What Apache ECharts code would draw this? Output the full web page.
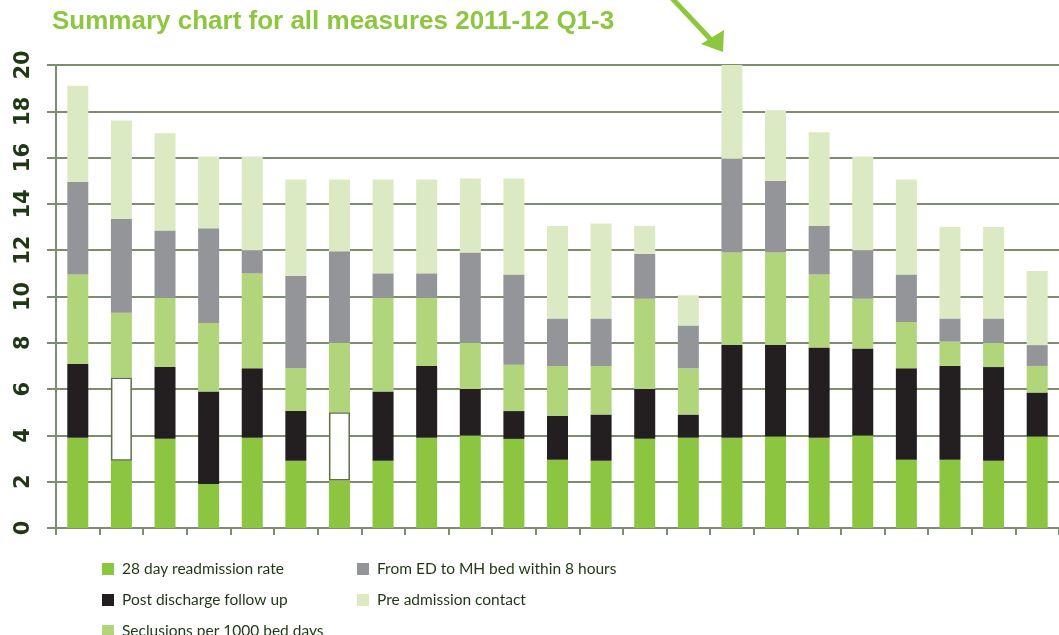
<!DOCTYPE html>
<html>
<head>
<meta charset="utf-8">
<script src="https://cdn.jsdelivr.net/npm/echarts@6/dist/echarts.min.js"></script>
<style>
html,body{margin:0;padding:0;background:#fff;}
#chart{width:1059px;height:635px;}
</style>
</head>
<body>
<div id="chart"></div>
<script>
// ---- data ----
const titleText = 'Summary chart for all measures 2011-12 Q1-3';
const categories = ['1','2','3','4','5','6','7','8','9','10','11','12','13','14','15','16','17','18','19','20','21','22','23'];
const seriesNames = ['28 day readmission rate','Post discharge follow up','Seclusions per 1000 bed days','From ED to MH bed within 8 hours','Pre admission contact'];
const readmission = [3.9,2.9,3.85,1.9,3.9,2.9,2.05,2.9,3.9,4.0,3.85,2.95,2.9,3.85,3.9,3.9,3.95,3.9,4.0,2.95,2.95,2.9,3.95];
const followUp    = [3.2,3.6,3.1,4.0,3.0,2.15,2.95,3.0,3.1,2.0,1.2,1.9,2.0,2.15,1.0,4.0,3.95,3.9,3.75,3.95,4.05,4.05,1.9];
const seclusions  = [3.85,2.8,3.0,2.95,4.1,1.85,3.0,4.05,2.95,2.0,2.0,2.15,2.1,3.9,2.0,4.0,4.0,3.15,2.15,2.0,1.05,1.05,1.15];
const edToBed     = [4.0,4.05,2.9,4.1,1.0,4.0,3.95,1.05,1.05,3.9,3.9,2.05,2.05,1.95,1.85,4.05,3.1,2.1,2.1,2.05,1.0,1.05,0.9];
const preAdmission= [4.15,4.25,4.2,3.1,4.05,4.15,3.1,4.05,4.05,3.2,4.15,4.0,4.1,1.2,1.3,4.05,3.05,4.05,4.05,4.1,3.95,3.95,3.2];
const hollowFollowUp = [1, 6]; // indices drawn as empty boxes
const yTicks = [0,2,4,6,8,10,12,14,16,18,20];

// ---- styles ----
const colors = ['#8cc540','#231f20','#b0d57a','#949599','#dbeac3'];
const gridColor = '#7e8d70';
const textDark = '#1f3714';

const followData = followUp.map((v,i) => hollowFollowUp.includes(i)
  ? {value: v, itemStyle: {color: '#ffffff', borderColor: '#5f7049', borderWidth: 1.5}}
  : v);
const seriesData = [readmission, followData, seclusions, edToBed, preAdmission];

const legendText = {fontFamily: 'Lato', fontSize: 15.5, lineHeight: 15, color: textDark, padding: [0,0,0,3]};

const chart = echarts.init(document.getElementById('chart'), null, {renderer: 'canvas'});
chart.setOption({
  animation: false,
  title: {
    text: titleText,
    left: 52, top: 9, padding: 0,
    textStyle: {fontFamily: 'Liberation Sans', fontSize: 26, fontWeight: 'bold', color: '#8dc63f'}
  },
  graphic: [
    {type: 'polyline', shape: {points: [[668,-6],[715,44]]}, style: {stroke: '#8dc63f', lineWidth: 5}},
    {type: 'polygon', shape: {points: [[723,52],[701,44],[724,30]]}, style: {fill: '#8dc63f'}}
  ],
  legend: [
    {
      data: seriesNames.slice(0,3), orient: 'vertical', left: 102, top: 561, height: 90, padding: 0,
      itemWidth: 12, itemHeight: 12, itemGap: 15, icon: 'rect', textStyle: legendText
    },
    {
      data: seriesNames.slice(3), orient: 'vertical', left: 357, top: 561, height: 90, padding: 0,
      itemWidth: 12, itemHeight: 12, itemGap: 15, icon: 'rect', textStyle: legendText
    }
  ],
  grid: {left: 56, top: 65, width: 1008, height: 463, containLabel: false},
  xAxis: {
    type: 'category', data: categories,
    axisLine: {lineStyle: {color: gridColor, width: 2}},
    axisTick: {show: true, length: 7, lineStyle: {color: gridColor, width: 2}},
    axisLabel: {show: false}
  },
  yAxis: {
    type: 'value', min: yTicks[0], max: yTicks[yTicks.length-1], interval: 2,
    axisLine: {show: true, lineStyle: {color: gridColor, width: 2}},
    axisTick: {show: true, length: 9, lineStyle: {color: gridColor, width: 2}},
    splitLine: {lineStyle: {color: gridColor, width: 2}},
    axisLabel: {rotate: 90, margin: 22, fontFamily: 'DejaVu Sans', fontWeight: 'bold', fontSize: 21, color: textDark}
  },
  series: seriesNames.map((n,i) => ({
    name: n, type: 'bar', stack: 'total', barWidth: 21,
    itemStyle: {color: colors[i]},
    data: seriesData[i]
  }))
});
</script>
</body>
</html>
